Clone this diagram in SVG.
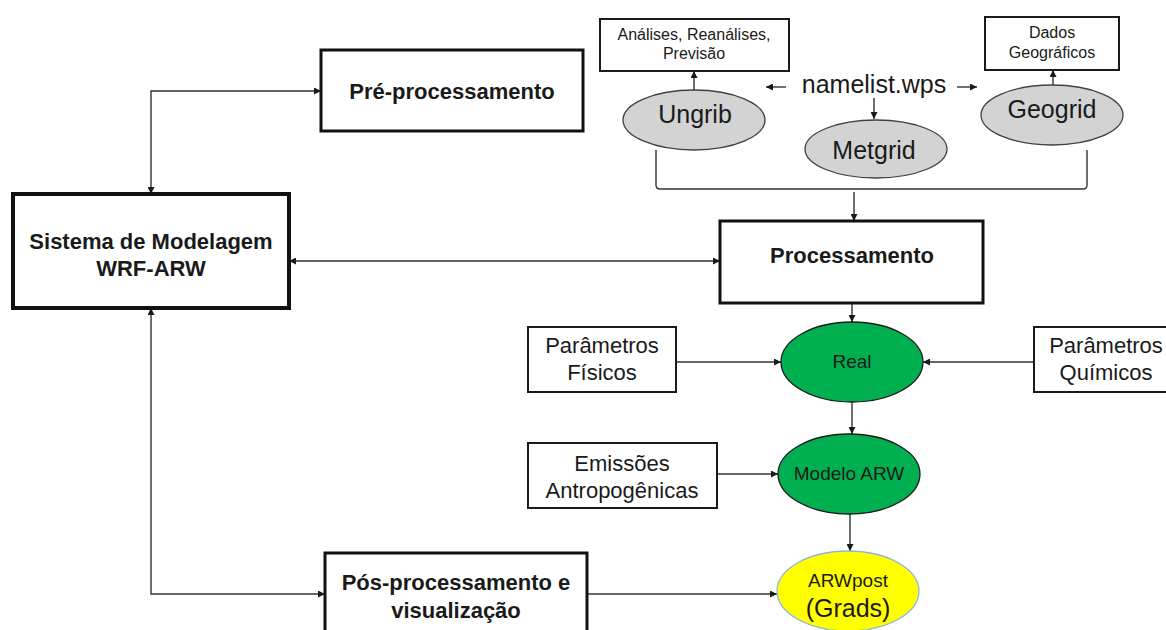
<svg xmlns="http://www.w3.org/2000/svg" width="1166" height="630" viewBox="0 0 1166 630">
<defs>
<marker id="ah" viewBox="0 0 10 10" refX="10" refY="5" markerWidth="7" markerHeight="7" markerUnits="userSpaceOnUse" orient="auto-start-reverse">
<path d="M0,0 L10,5 L0,10 z" fill="#1a1a1a"/>
</marker>
<style>
text{font-family:"Liberation Sans",Arial,sans-serif;fill:#1a1a1a;text-anchor:middle}
.b{font-weight:bold;font-size:22px}
.r{font-size:22px}
.s{font-size:16px}
.e{font-size:25px}
.m{font-size:19px}
.box{fill:#fff;stroke:#1a1a1a;stroke-width:2}
.tbox{fill:#fff;stroke:#111;stroke-width:3}
.grey{fill:#d3d3d3;stroke:#404040;stroke-width:1.3}
.green{fill:#00b050;stroke:#1a1a1a;stroke-width:1.3}
.yellow{fill:#ffff00;stroke:#8eb4e3;stroke-width:1.3}
.c{fill:none;stroke:#333;stroke-width:1.4}
.a{marker-end:url(#ah)}
.aa{marker-start:url(#ah);marker-end:url(#ah)}
</style>
</defs>

<g id="connectors">
<path class="c aa" d="M151,194 V91 H321"/>
<path class="c aa" d="M289,261 H720"/>
<path class="c aa" d="M151,308 V594 H325"/>
<path class="c a" d="M694,90 V71"/>
<path class="c a" d="M1053,86 V70"/>
<path class="c a" d="M786,87 H766"/>
<path class="c a" d="M957,87 H977"/>
<path class="c a" d="M874,98 V119"/>
<path class="c" d="M656,150 V185 Q656,189 660,189 H1083 Q1087,189 1087,185 V150"/>
<path class="c a" d="M854,192 V221"/>
<path class="c a" d="M852,303 V322"/>
<path class="c a" d="M676,362 H781"/>
<path class="c a" d="M1034,362 H923"/>
<path class="c a" d="M852,402 V434"/>
<path class="c a" d="M717,474 H778"/>
<path class="c a" d="M850,514 V551"/>
<path class="c a" d="M587,594 H777"/>
</g>

<g id="pre">
<rect class="tbox" x="321" y="50" width="262" height="81"/>
<text class="b" x="452" y="99">Pré-processamento</text>
</g>

<g id="sistema">
<rect x="13" y="194" width="276" height="114" fill="#fff" stroke="#111" stroke-width="4"/>
<text class="b" x="151" y="249">Sistema de Modelagem</text>
<text class="b" x="151" y="276">WRF-ARW</text>
</g>

<g id="processamento">
<rect class="tbox" x="720" y="221" width="263" height="82"/>
<text class="b" x="852" y="263">Processamento</text>
</g>

<g id="pos">
<rect class="tbox" x="325" y="553" width="262" height="82"/>
<text class="b" x="456" y="590">Pós-processamento e</text>
<text class="b" x="456" y="618">visualização</text>
</g>

<g id="analises">
<rect class="box" x="600" y="19" width="189" height="52" stroke-width="1.5"/>
<text class="s" x="694" y="40">Análises, Reanálises,</text>
<text class="s" x="694" y="59">Previsão</text>
</g>

<g id="dados">
<rect class="box" x="985" y="17" width="134" height="53" stroke-width="1.5"/>
<text class="s" x="1052" y="38">Dados</text>
<text class="s" x="1052" y="58">Geográficos</text>
</g>

<g id="namelist">
<text class="e" x="874" y="93">namelist.wps</text>
</g>

<g id="ungrib">
<ellipse class="grey" cx="694" cy="120" rx="71" ry="30"/>
<text class="e" x="695" y="123">Ungrib</text>
</g>

<g id="metgrid">
<ellipse class="grey" cx="876" cy="149" rx="71" ry="29"/>
<text class="e" x="874" y="159">Metgrid</text>
</g>

<g id="geogrid">
<ellipse class="grey" cx="1052" cy="115" rx="71" ry="30"/>
<text class="e" x="1052" y="118">Geogrid</text>
</g>

<g id="fisicos">
<rect class="box" x="528" y="327" width="148" height="65"/>
<text class="r" x="602" y="353">Parâmetros</text>
<text class="r" x="602" y="380">Físicos</text>
</g>

<g id="quimicos">
<rect class="box" x="1034" y="327" width="144" height="65"/>
<text class="r" x="1106" y="353">Parâmetros</text>
<text class="r" x="1106" y="380">Químicos</text>
</g>

<g id="emissoes">
<rect class="box" x="528" y="443" width="189" height="65"/>
<text class="r" x="622" y="471">Emissões</text>
<text class="r" x="622" y="498">Antropogênicas</text>
</g>

<g id="real">
<ellipse class="green" cx="852" cy="362" rx="71" ry="40"/>
<text class="m" x="852" y="368">Real</text>
</g>

<g id="modelo">
<ellipse class="green" cx="849" cy="474" rx="71" ry="40"/>
<text class="m" x="849" y="480">Modelo ARW</text>
</g>

<g id="arwpost">
<ellipse class="yellow" cx="848" cy="591" rx="71" ry="40"/>
<text class="m" x="848" y="587">ARWpost</text>
<text class="e" x="848" y="617">(Grads)</text>
</g>
</svg>
